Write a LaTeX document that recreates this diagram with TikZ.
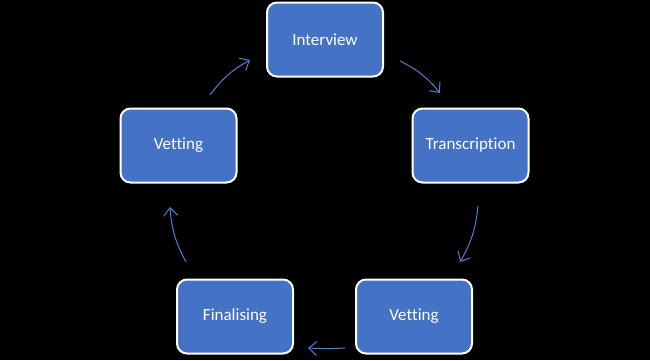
\documentclass[tikz,border=0pt]{standalone}
\usepackage{fontspec}
\setmainfont[Ligatures=NoCommon]{Carlito}
\usetikzlibrary{arrows.meta}
\definecolor{boxblue}{HTML}{4472C4}
\definecolor{arrblue}{HTML}{4F81CF}
\begin{document}
\begin{tikzpicture}[x=1pt,y=-1pt,
  stage/.style={draw=white,line width=2pt,fill=boxblue,rounded corners=10pt,minimum width=116pt,minimum height=74pt,text=white,font=\fontsize{17}{20}\selectfont,inner sep=0pt},
  flow/.style={draw=arrblue,line width=1pt,-{Straight Barb[length=8pt,width=14pt,line width=1pt]}}]
\fill[black] (0,0) rectangle (650,360);
\useasboundingbox (0,0) rectangle (650,360);
\node[stage] (int) at (325,39.5) {Interview};
\node[stage] (tra) at (470.5,145.5) {Transcription};
\node[stage] (vr) at (414,316.5) {Vetting};
\node[stage] (fin) at (235,316.5) {Finalising};
\node[stage] (vl) at (178.5,145.5) {Vetting};
\coordinate (a1) at (400,61);
\coordinate (b1) at (440,93);
\coordinate (a2) at (478,206);
\coordinate (b2) at (460,262);
\coordinate (a3) at (345,348);
\coordinate (b3) at (308,348);
\coordinate (a4) at (186,262);
\coordinate (b4) at (170,207);
\coordinate (a5) at (210,95);
\coordinate (b5) at (250,60);
\draw[flow] (a1) to[bend left=12] (b1);
\draw[flow] (a2) to[bend left=12] (b2);
\draw[flow] (a3) to[bend left=3] (b3);
\draw[flow] (a4) to[bend left=12] (b4);
\draw[flow] (a5) to[bend left=12] (b5);
\end{tikzpicture}
\end{document}
